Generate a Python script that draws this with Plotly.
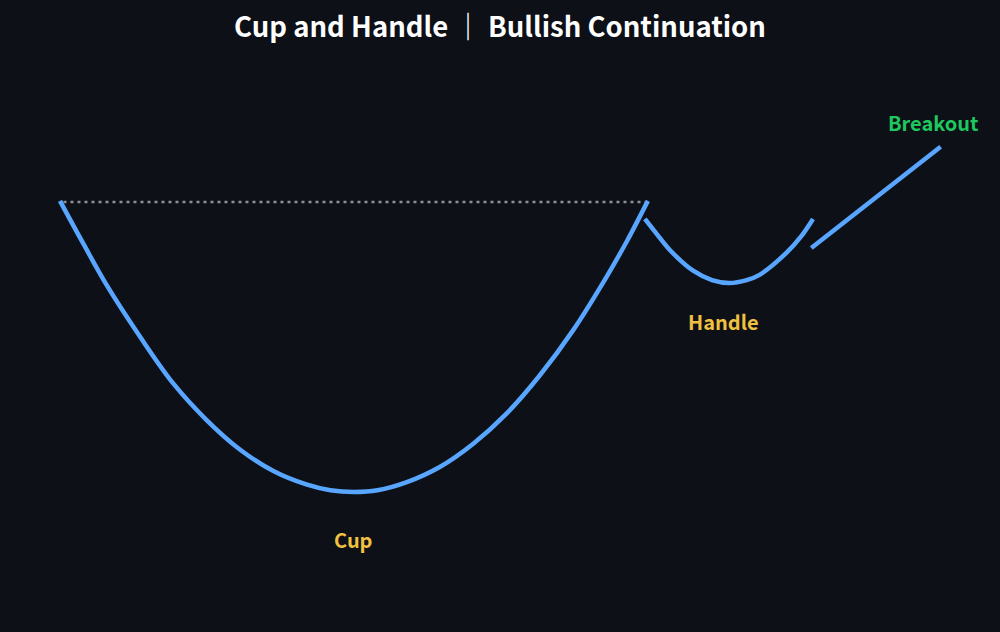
import plotly.graph_objects as go

# price path (x = bars, y = price)
cup_x = [0, 4.0, 7.9, 13.6, 19.3, 24.9, 30.6, 36.3, 41.9, 46.0, 50, 54.0, 59.0, 64.6, 70.3, 76.0, 81.6, 87.3, 93.0, 96.5, 100]
cup_y = [100, 92.6, 85.6, 76.7, 68.6, 62.4, 57.3, 53.6, 51.3, 50.3, 50, 50.3, 51.7, 54.3, 58.3, 63.5, 70.0, 77.8, 87.0, 93.2, 100]

handle_x = [99.5, 101.6, 103.7, 107.7, 110.9, 113.9, 116.8, 119.0, 123.6, 126.0, 128.1]
handle_y = [96.9, 94.2, 91.6, 88.0, 86.4, 85.9, 86.4, 87.3, 91.1, 93.8, 96.9]

breakout_x = [127.8, 149.8]
breakout_y = [91.9, 109.3]

rim_x = [0.6, 99.5]
rim_y = [99.8, 99.8]

label_text = ["Cup", "Handle", "Breakout"]
label_x = [50, 112.9, 148.6]
label_y = [41.9, 79.2, 113.4]
label_color = ["#f0c040", "#f0c040", "#1ec85e"]

BLUE = "#58a6ff"
BG = "#0d1017"
FONT = "Noto Sans CJK SC"

fig = go.Figure()

fig.add_trace(go.Scatter(x=rim_x, y=rim_y, mode="lines",
                         line=dict(color="#8b9099", width=2.5, dash="3px,4px"),
                         hoverinfo="skip"))
fig.add_trace(go.Scatter(x=cup_x, y=cup_y, mode="lines", name="Cup",
                         line=dict(color=BLUE, width=4.5, shape="spline", smoothing=1.0)))
fig.add_trace(go.Scatter(x=handle_x, y=handle_y, mode="lines", name="Handle",
                         line=dict(color=BLUE, width=4.5, shape="spline", smoothing=0.9)))
fig.add_trace(go.Scatter(x=breakout_x, y=breakout_y, mode="lines", name="Breakout",
                         line=dict(color=BLUE, width=4.5)))

for t, x, y, c in zip(label_text, label_x, label_y, label_color):
    fig.add_annotation(x=x, y=y, text="<b>%s</b>" % t, showarrow=False,
                       font=dict(family=FONT, size=20, color=c))

fig.update_layout(
    width=1000, height=632,
    paper_bgcolor=BG, plot_bgcolor=BG,
    showlegend=False,
    margin=dict(l=0, r=0, t=0, b=0),
    title=dict(text="<b>Cup and Handle ｜ Bullish Continuation</b>",
               x=0.5, xanchor="center", y=0.957, yanchor="middle",
               font=dict(family=FONT, size=27.5, color="#ffffff")),
    xaxis=dict(range=[-10.2, 159.9], visible=False, fixedrange=True),
    yaxis=dict(range=[25.95, 134.5], visible=False, fixedrange=True),
)

fig.write_html("out.html", config={"displayModeBar": False},
               post_script="document.body.style.margin='0';")
